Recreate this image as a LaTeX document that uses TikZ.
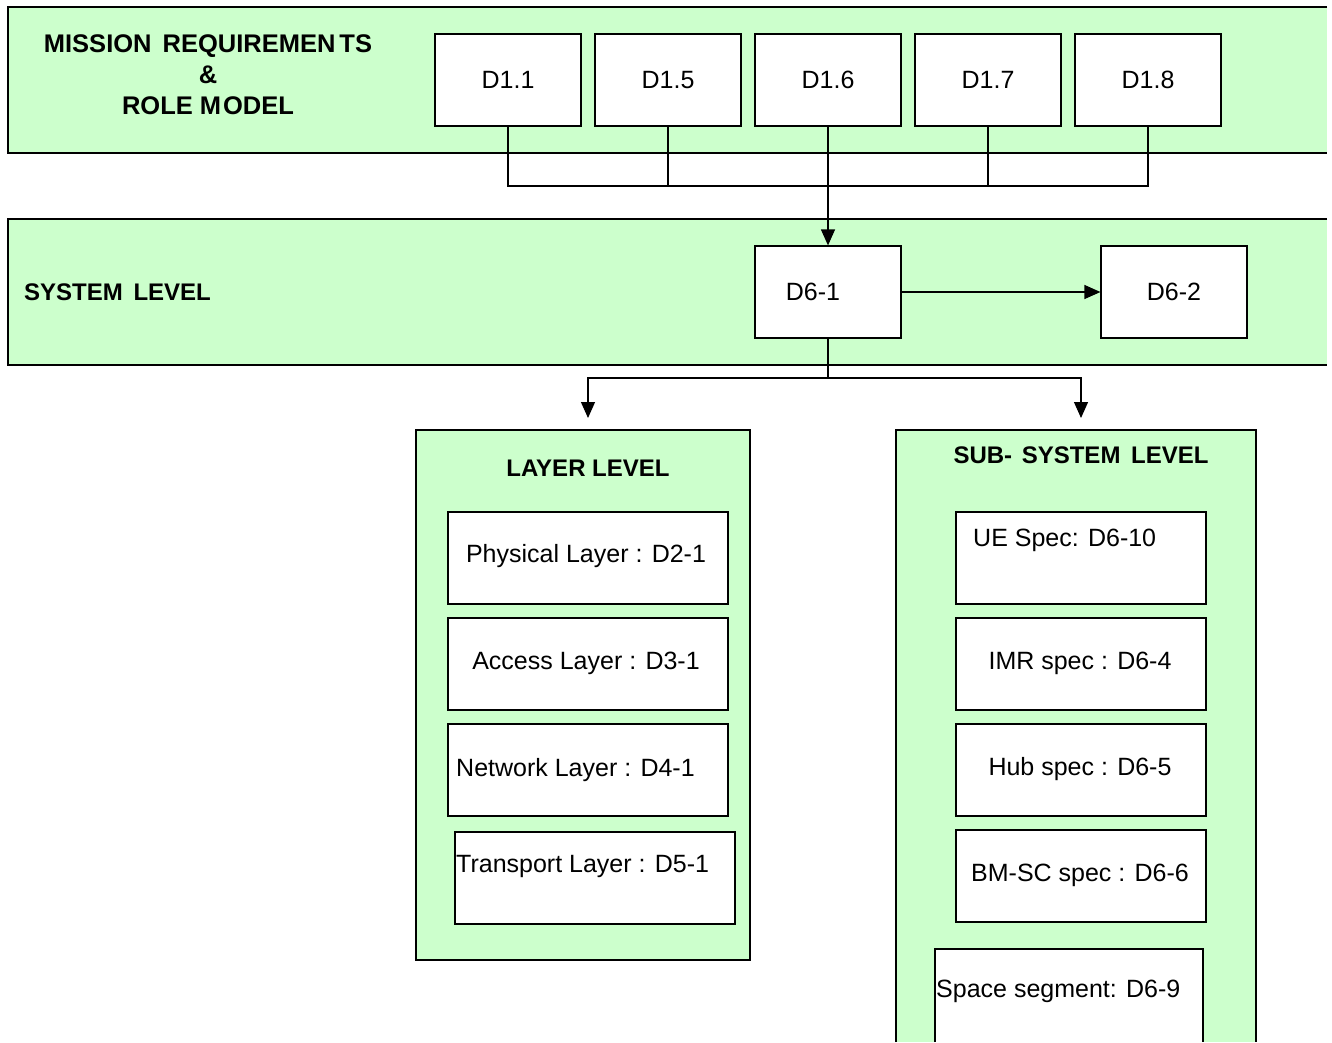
\documentclass[tikz,border=0pt]{standalone}
\usepackage{fontspec}
\setmainfont{Liberation Sans}
\usetikzlibrary{arrows.meta}
\definecolor{bandgreen}{HTML}{CCFFCC}
\tikzset{
  regtext/.style={font=\fontsize{25}{29}\selectfont, inner sep=0pt},
  boldtext/.style={font=\fontsize{24}{31}\selectfont\bfseries, inner sep=0pt},
  docbox/.style={draw=black, fill=white, line width=1.2pt, inner sep=0pt,
                 minimum width=146pt, minimum height=92pt, regtext},
  layerbox/.style={docbox, minimum width=280pt},
  specbox/.style={docbox, minimum width=250pt},
  panel/.style={draw=black, fill=bandgreen, line width=1.2pt, inner sep=0pt},
  flow/.style={line width=1.2pt, -{Triangle[length=16pt,width=14pt]}},
  wire/.style={line width=1.2pt}
}
\begin{document}
\begin{tikzpicture}[x=1pt,y=-1pt]
\useasboundingbox (0,0) rectangle (1332,1042);

% horizontal bands, open on the right
\fill[bandgreen] (8,7) rectangle (1327,153);
\draw[wire] (1327,7) -- (8,7) -- (8,153) -- (1327,153);
\fill[bandgreen] (8,219) rectangle (1327,365);
\draw[wire] (1327,219) -- (8,219) -- (8,365) -- (1327,365);

\node[boldtext, font=\fontsize{25.5}{31}\selectfont\bfseries, align=center] (mission) at (208,75)
  {MISSION \kern4pt REQUIREMEN\kern4pt TS\\ \&\\ ROLE M\kern2pt ODEL};
\node[boldtext, anchor=west] (system) at (24,292) {SYSTEM \kern4pt LEVEL};

% mission deliverables
\node[docbox] (d11) at (508,80) {D1.1};
\node[docbox] (d15) at (668,80) {D1.5};
\node[docbox] (d16) at (828,80) {D1.6};
\node[docbox] (d17) at (988,80) {D1.7};
\node[docbox] (d18) at (1148,80) {D1.8};

% system deliverables
\node[docbox] (d61) at (828,292) {D6-1\kern30pt};
\node[docbox] (d62) at (1174,292) {D6-2};

% collecting bus under the mission deliverables
\coordinate (bus) at (828,186);
\draw[wire] (d11.south) -- (d11.south |- bus) -- (d18.south |- bus) -- (d18.south);
\draw[wire] (d15.south) -- (d15.south |- bus);
\draw[wire] (d17.south) -- (d17.south |- bus);
\draw[flow] (d16.south) -- (d61.north);
\draw[flow] (d61.east) -- (d62.west);

% layer level panel
\node[panel, minimum width=334pt, minimum height=530pt] (layer) at (583,695) {};
\coordinate (layertop) at (588,430);
\node[boldtext] (layertitle) at (588,468) {LAYER LEVEL};
\node[layerbox] (phy) at (588,558) {};
\node[regtext] (phytext) at (586,556) {Physical Layer : D2-1};
\node[layerbox] (acc) at (588,664) {};
\node[regtext] (acctext) at (586,663) {Access Layer : D3-1};
\node[layerbox] (net) at (588,770) {};
\node[regtext, anchor=west] (nettext) at (456,770) {Network Layer : D4-1};
\node[layerbox] (tra) at (595,878) {};
\node[regtext, anchor=west] (tratext) at (456,866) {Transport Layer : D5-1};

% sub-system level panel, running off the bottom edge
\fill[bandgreen] (896,430) rectangle (1256,1042);
\draw[wire] (896,1042) -- (896,430) -- (1256,430) -- (1256,1042);
\coordinate (subtop) at (1081,430);
\node[boldtext] (subtitle) at (1081,455) {SUB- \kern3pt SYSTEM \kern4pt LEVEL};
\node[specbox] (ue) at (1081,558) {};
\node[regtext, anchor=west] (uetext) at (973,540) {UE Spec: D6-10};
\node[specbox] (imr) at (1081,664) {};
\node[regtext] (imrtext) at (1080,663) {IMR spec : D6-4};
\node[specbox] (hub) at (1081,770) {};
\node[regtext] (hubtext) at (1080,769) {Hub spec : D6-5};
\node[specbox] (bmsc) at (1081,876) {};
\node[regtext] (bmsctext) at (1080,875) {BM-SC spec : D6-6};
\fill[white] (935,949) rectangle (1203,1042);
\draw[wire] (935,1042) -- (935,949) -- (1203,949) -- (1203,1042);
\node[regtext, anchor=west] (spacetext) at (936,991) {Space segment: D6-9};

% split from D6-1 down to both panels
\coordinate (split) at (828,378);
\draw[wire] (d61.south) -- (split);
\draw[flow, shorten >=12pt] (split) -| (layertop);
\draw[flow, shorten >=12pt] (split) -| (subtop);
\end{tikzpicture}
\end{document}
